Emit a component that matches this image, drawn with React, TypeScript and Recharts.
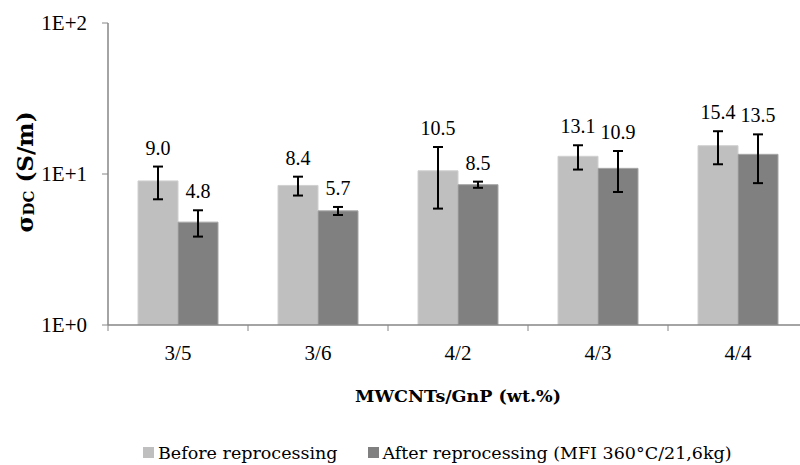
import React from 'react';
import { BarChart, Bar, XAxis, YAxis, ErrorBar, LabelList, Legend } from 'recharts';

const categories = ['3/5', '3/6', '4/2', '4/3', '4/4'];
const beforeValues = [9.0, 8.4, 10.5, 13.1, 15.4];
const beforeErrors = [2.2, 1.2, 4.6, 2.4, 3.8];
const afterValues = [4.8, 5.7, 8.5, 10.9, 13.5];
const afterErrors = [0.95, 0.35, 0.4, 3.3, 4.8];
const yTicks = [1, 10, 100];

const seriesNames = ['Before reprocessing', 'After reprocessing (MFI 360°C/21,6kg)'];
const LIGHT = '#bfbfbf';
const DARK = '#808080';
const AXIS = '#868686';
const WORD_FONT = 'DejaVu Serif';
const NUM_FONT = 'Liberation Serif';

const data = categories.map((name, i) => ({
  name,
  before: beforeValues[i],
  beforeErr: beforeErrors[i],
  after: afterValues[i],
  afterErr: afterErrors[i],
}));

// label sits above the top of the error bar
const valueLabel = (errors: number[]) => (props: any) => {
  const { x, y, width, height, value, index } = props;
  if (value == null || !height) return null;
  const bottom = y + height;
  const perDecade = height / Math.log10(value);
  const errTop = bottom - perDecade * Math.log10(value + errors[index]);
  return (
    <text x={x + width / 2} y={errTop - 12} textAnchor="middle" fontFamily={NUM_FONT} fontSize={20} fill="#000">
      {Number(value).toFixed(1)}
    </text>
  );
};

// category label at centre, tick mark at the category boundary
const CategoryTick = (props: any) => {
  const { x, y, payload } = props;
  const half = payload && payload.offset ? payload.offset : 70;
  const axisY = y - 23;
  return (
    <g>
      <line x1={x - half} x2={x - half} y1={axisY} y2={axisY + 6} stroke={AXIS} strokeWidth={1} />
      <text x={x} y={axisY + 35} textAnchor="middle" fontFamily={NUM_FONT} fontSize={21} fill="#000">
        {payload.value}
      </text>
    </g>
  );
};

const YTitle = (props: any) => {
  const vb = props.viewBox || { x: 0, y: 0, width: 108, height: 300 };
  const cx = vb.x + 24;
  const cy = vb.y + vb.height / 2 - 2;
  return (
    <text
      x={cx}
      y={cy}
      transform={`rotate(-90, ${cx}, ${cy})`}
      textAnchor="middle"
      dominantBaseline="central"
      fontFamily={WORD_FONT}
      fontWeight="bold"
      fontSize={23}
      fill="#000"
    >
      σ<tspan dy={5} fontSize={15}>DC</tspan>
      <tspan dy={-5}> (S/m)</tspan>
    </text>
  );
};

const LegendContent = () => (
  <div
    style={{
      height: 25,
      display: 'flex',
      alignItems: 'center',
      paddingLeft: 143,
      fontFamily: WORD_FONT,
      fontSize: 17.5,
      color: '#000',
    }}
  >
    <span style={{ width: 11, height: 11, background: LIGHT, marginRight: 4, display: 'inline-block' }} />
    <span style={{ marginRight: 30 }}>{seriesNames[0]}</span>
    <span style={{ width: 11, height: 11, background: DARK, marginRight: 4, display: 'inline-block' }} />
    <span>{seriesNames[1]}</span>
  </div>
);

export default function App() {
  return (
    <div style={{ position: 'absolute', left: 0, top: 0, width: 800, height: 465, overflow: 'hidden', background: '#fff' }}>
      <BarChart
        width={808}
        height={465}
        data={data}
        margin={{ top: 23, right: 0, left: 0, bottom: 0 }}
        barGap={0}
        barSize={40}
        style={{ fontFamily: WORD_FONT }}
      >
        <XAxis
          dataKey="name"
          height={115}
          tickSize={0}
          tickMargin={23}
          tickLine={false}
          axisLine={{ stroke: AXIS, strokeWidth: 1.5 }}
          tick={<CategoryTick />}
          label={{
            value: 'MWCNTs/GnP (wt.%)',
            position: 'insideBottom',
            offset: 38,
            fontFamily: WORD_FONT,
            fontWeight: 'bold',
            fontSize: 17.5,
            fill: '#000',
          }}
        />
        <YAxis
          scale="log"
          domain={[1, 100]}
          ticks={yTicks}
          allowDataOverflow
          width={108}
          tickSize={6}
          tickMargin={15}
          tickFormatter={(v: number) => `1E+${Math.round(Math.log10(v))}`}
          tick={{ fontFamily: NUM_FONT, fontSize: 21, fill: '#000' }}
          tickLine={{ stroke: AXIS }}
          axisLine={{ stroke: AXIS, strokeWidth: 1.5 }}
          label={<YTitle />}
        />
        <Legend verticalAlign="bottom" align="left" content={<LegendContent />} wrapperStyle={{ left: 0, bottom: 0 }} />
        <Bar dataKey="before" name={seriesNames[0]} fill={LIGHT} stroke="#d0d0d0" strokeWidth={1} isAnimationActive={false}>
          <ErrorBar dataKey="beforeErr" width={5} strokeWidth={2} stroke="#000" direction="y" />
          <LabelList dataKey="before" content={valueLabel(beforeErrors)} />
        </Bar>
        <Bar dataKey="after" name={seriesNames[1]} fill={DARK} stroke="#a6a6a6" strokeWidth={1} isAnimationActive={false}>
          <ErrorBar dataKey="afterErr" width={5} strokeWidth={2} stroke="#000" direction="y" />
          <LabelList dataKey="after" content={valueLabel(afterErrors)} />
        </Bar>
      </BarChart>
    </div>
  );
}
